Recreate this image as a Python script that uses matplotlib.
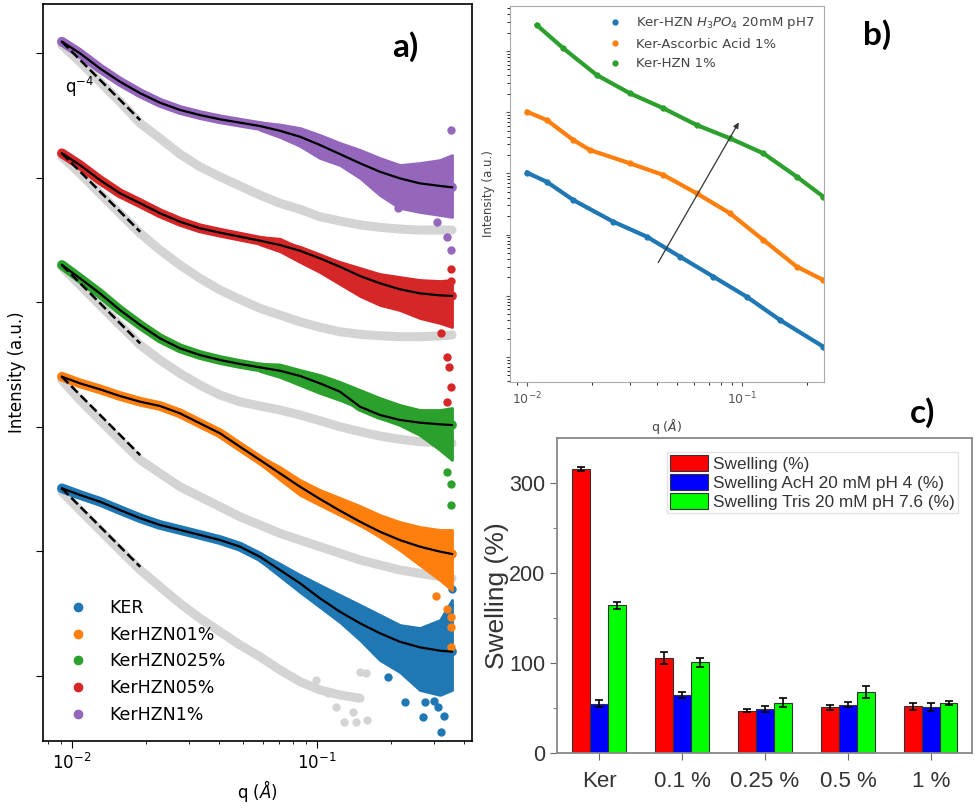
import matplotlib
matplotlib.use("Agg")
import matplotlib.pyplot as plt
import numpy as np
from matplotlib.lines import Line2D
from matplotlib.ticker import NullFormatter, LogLocator, FixedLocator

# ---------------- Panel a data (q in 1/Angstrom, log10 intensity with offsets) -------------
labels_a = ["KER", "KerHZN01%", "KerHZN025%", "KerHZN05%", "KerHZN1%"]
colors_a = ["#1f77b4", "#ff7f0e", "#2ca02c", "#d62728", "#9467bd"]

q_a = [0.0091, 0.01078, 0.0130, 0.0157, 0.0190, 0.02287, 0.0276, 0.0333, 0.0402, 0.0485, 0.0585,
       0.0706, 0.0853, 0.1028, 0.1241, 0.150, 0.1807, 0.218, 0.263, 0.318, 0.356]

y_ker = [1.506, 1.453, 1.399, 1.332, 1.266, 1.212, 1.172, 1.132, 1.091, 1.038, 0.957,
         0.851, 0.744, 0.624, 0.516, 0.423, 0.343, 0.275, 0.230, 0.203, 0.195]
y_01 = [2.402, 2.349, 2.301, 2.247, 2.201, 2.167, 2.108, 2.028, 1.948, 1.840, 1.734,
        1.627, 1.519, 1.421, 1.327, 1.238, 1.158, 1.091, 1.038, 0.998, 0.979]
y_025 = [3.299, 3.192, 3.071, 2.937, 2.817, 2.710, 2.630, 2.576, 2.536, 2.504, 2.477,
         2.450, 2.408, 2.349, 2.282, 2.161, 2.095, 2.055, 2.033, 2.020, 2.014]
y_05 = [4.195, 4.101, 3.981, 3.874, 3.794, 3.714, 3.646, 3.593, 3.558, 3.526, 3.494,
        3.459, 3.413, 3.352, 3.285, 3.210, 3.152, 3.104, 3.071, 3.055, 3.050]
y_1 = [5.091, 4.998, 4.877, 4.770, 4.677, 4.601, 4.543, 4.502, 4.468, 4.441, 4.414,
       4.376, 4.328, 4.262, 4.189, 4.115, 4.047, 3.994, 3.954, 3.933, 3.922]

# grey (background) curves on the same q grid (KER background stops at q~0.16)
g_ker = [1.479, 1.332, 1.172, 1.011, 0.851, 0.717, 0.583, 0.463, 0.356, 0.249, 0.155,
         0.049, -0.046, -0.112, -0.152, -0.179]
g_01 = [2.376, 2.215, 2.055, 1.894, 1.734, 1.627, 1.519, 1.439, 1.359, 1.278, 1.212,
        1.145, 1.091, 1.038, 0.985, 0.931, 0.891, 0.851, 0.824, 0.797, 0.784]
g_025 = [3.285, 3.138, 2.978, 2.817, 2.657, 2.536, 2.429, 2.335, 2.255, 2.201, 2.167,
         2.135, 2.095, 2.049, 2.001, 1.961, 1.926, 1.900, 1.880, 1.872, 1.868]
g_05 = [4.168, 4.035, 3.874, 3.713, 3.553, 3.419, 3.299, 3.192, 3.098, 3.023, 2.951,
        2.897, 2.843, 2.799, 2.763, 2.742, 2.731, 2.723, 2.723, 2.729, 2.737]
g_1 = [5.064, 4.930, 4.770, 4.609, 4.436, 4.315, 4.189, 4.087, 4.007, 3.933, 3.860,
       3.794, 3.746, 3.686, 3.652, 3.620, 3.601, 3.587, 3.579, 3.579, 3.579]

# spread of the noisy data at high q (upper / lower envelope)
q_band = [0.0585, 0.0706, 0.0853, 0.1028, 0.1241, 0.150, 0.1807, 0.218, 0.263, 0.318, 0.356]
hi_ker = [0.987, 0.901, 0.811, 0.730, 0.650, 0.570, 0.490, 0.409, 0.385, 0.449, 0.610]
lo_ker = [0.927, 0.801, 0.674, 0.554, 0.433, 0.289, 0.128, 0.032, -0.112, -0.152, -0.112]
hi_01 = [1.764, 1.677, 1.573, 1.493, 1.429, 1.364, 1.292, 1.236, 1.196, 1.172, 1.172]
lo_01 = [1.704, 1.577, 1.453, 1.372, 1.292, 1.212, 1.116, 1.011, 0.891, 0.770, 0.690]
hi_025 = [2.507, 2.500, 2.456, 2.416, 2.360, 2.295, 2.231, 2.175, 2.135, 2.135, 2.151]
lo_025 = [2.447, 2.400, 2.335, 2.271, 2.215, 2.151, 2.071, 2.014, 1.934, 1.814, 1.734]
hi_05 = [3.524, 3.509, 3.435, 3.379, 3.323, 3.274, 3.226, 3.202, 3.178, 3.170, 3.178]
lo_05 = [3.464, 3.409, 3.323, 3.242, 3.146, 3.050, 2.978, 2.937, 2.873, 2.833, 2.801]
hi_1 = [4.444, 4.426, 4.398, 4.342, 4.278, 4.222, 4.157, 4.101, 4.117, 4.141, 4.181]
lo_1 = [4.384, 4.326, 4.254, 4.157, 4.101, 3.997, 3.860, 3.756, 3.724, 3.700, 3.684]

# isolated outlying points
oq_ker = [0.229, 0.276, 0.272, 0.320, 0.330, 0.312, 0.356, 0.195, 0.300]
oy_ker = [-0.209, -0.209, -0.330, -0.450, -0.320, -0.250, 0.700, -0.010, -0.200]
oq_01 = [0.305, 0.338, 0.352, 0.352, 0.352]
oy_01 = [0.640, 0.540, 0.470, 0.393, 0.230]
oq_025 = [0.352, 0.352, 0.340]
oy_025 = [1.540, 1.370, 1.640]
oq_05 = [0.352, 0.352, 0.340, 0.345, 0.352, 0.338, 0.320]
oy_05 = [3.270, 3.170, 2.560, 2.480, 2.320, 2.200, 2.750]
oq_1 = [0.352, 0.215, 0.310, 0.340, 0.352]
oy_1 = [4.380, 3.760, 3.640, 3.520, 3.420]
ogq = [0.099, 0.111, 0.129, 0.144, 0.160, 0.150, 0.158, 0.120, 0.140]
ogy = [-0.030, -0.136, -0.370, -0.370, -0.354, 0.030, 0.020, -0.250, -0.290]

dash_q = [0.0091, 0.0190]
dash_drop = [0.0, 0.63]

# ---------------- Panel b data ----------------
labels_b = [r"Ker-HZN $H_3PO_4$ 20mM pH7", "Ker-Ascorbic Acid 1%", "Ker-HZN 1%"]
colors_b = ["#1f77b4", "#ff7f0e", "#2ca02c"]
qb_blue = [0.0100, 0.01235, 0.01642, 0.0252, 0.0361, 0.0515, 0.0736, 0.1051, 0.150, 0.2388]
yb_blue = [3.012, 2.864, 2.565, 2.211, 1.966, 1.639, 1.312, 0.985, 0.605, 0.168]
qb_orange = [0.0100, 0.01235, 0.01642, 0.01963, 0.0301, 0.0431, 0.0615, 0.0879, 0.1256, 0.1796, 0.2388]
yb_orange = [4.008, 3.873, 3.546, 3.382, 3.165, 2.974, 2.675, 2.348, 1.912, 1.476, 1.258]
qb_green = [0.0111, 0.01476, 0.0211, 0.0301, 0.0431, 0.0615, 0.0879, 0.1256, 0.1796, 0.2388]
yb_green = [5.425, 5.044, 4.608, 4.309, 4.064, 3.791, 3.573, 3.328, 2.946, 2.619]
arrow_q = [0.0401, 0.0979]
arrow_y = [1.503, 3.873]

# ---------------- Panel c data ----------------
categories = ["Ker", "0.1 %", "0.25 %", "0.5 %", "1 %"]
series_c = ["Swelling (%)", "Swelling AcH 20 mM pH 4 (%)", "Swelling Tris 20 mM pH 7.6 (%)"]
swelling = [316, 105.6, 47, 50.7, 51.9]
swelling_err = [2.2, 6.7, 2.0, 3.0, 3.7]
swelling_ach = [54.8, 64.4, 49, 53.7, 51.1]
swelling_ach_err = [3.5, 3.0, 3.0, 2.5, 4.0]
swelling_tris = [164, 100.7, 55.6, 67.8, 55.6]
swelling_tris_err = [4.0, 5.0, 5.0, 6.3, 2.0]
colors_c = ["#ff0000", "#0000ff", "#00ff00"]

# =====================================================================
fig = plt.figure(figsize=(9.75, 8.08), dpi=100)

# ---------------- Panel a ----------------
ax = fig.add_axes([0.0441, 0.0829, 0.4400, 0.9121])
grey = "#d4d4d4"
greys = [g_ker, g_01, g_025, g_05, g_1]
cols = [y_ker, y_01, y_025, y_05, y_1]
his = [hi_ker, hi_01, hi_025, hi_05, hi_1]
los = [lo_ker, lo_01, lo_025, lo_05, lo_1]
outs = [(oq_ker, oy_ker), (oq_01, oy_01), (oq_025, oy_025), (oq_05, oy_05), (oq_1, oy_1)]
for gy in greys:
    ax.plot(q_a[:len(gy)], gy, "-", color=grey, lw=6.5, solid_capstyle="round", zorder=1)
ax.plot(ogq, ogy, "o", color=grey, ms=5, zorder=1)
for y, hi, lo, (oq, oy), c in zip(cols, his, los, outs, colors_a):
    ax.plot(q_a, y, "-", color=c, lw=7, solid_capstyle="round", zorder=2)
    ax.fill_between(q_band, lo, hi, color=c, lw=2, edgecolor=c, zorder=2)
    ax.plot(oq, oy, "o", color=c, ms=5, zorder=2)
for y in cols:
    ax.plot(q_a, y, "-", color="black", lw=1.6, zorder=4)
    ax.plot(dash_q, [y[0] - dash_drop[0], y[0] - dash_drop[1]], "--", color="black", lw=1.8, zorder=3)

ax.set_xscale("log")
ax.set_xlim(0.00762, 0.4295)
ax.set_ylim(-0.522, 5.393)
ax.yaxis.set_major_locator(FixedLocator([0, 1, 2, 3, 4, 5]))
ax.yaxis.set_major_formatter(NullFormatter())
ax.tick_params(axis="x", labelsize=12, length=5)
ax.tick_params(axis="y", length=5)
ax.set_xlabel(r"q ($\AA$)", fontsize=12)
ax.set_ylabel("Intensity (a.u.)", fontsize=12, labelpad=4)
ax.text(0.0094, 4.68, r"q$^{-4}$", fontsize=12)
handles = [Line2D([], [], marker="o", ls="", color=c, ms=6) for c in colors_a]
ax.legend(handles, labels_a, loc="lower left", frameon=False, fontsize=12.5,
          handlelength=2.0, handletextpad=0.8, borderaxespad=0.6)
for s in ax.spines.values():
    s.set_linewidth(1.2)

# ---------------- Panel b ----------------
bx = fig.add_axes([0.5231, 0.5272, 0.3221, 0.4653])
bdata = [(qb_blue, yb_blue), (qb_orange, yb_orange), (qb_green, yb_green)]
for (q, y), c in zip(bdata, colors_b):
    bx.plot(q, 10 ** np.array(y), "-", color=c, lw=3, zorder=2)
    bx.plot(q, 10 ** np.array(y), "o", color=c, ms=3.5, zorder=2)
bx.annotate("", xy=(arrow_q[1], 10 ** arrow_y[1]), xytext=(arrow_q[0], 10 ** arrow_y[0]),
            arrowprops=dict(arrowstyle="-|>", color="#333333", lw=0.9, mutation_scale=8), zorder=5)
bx.set_xscale("log")
bx.set_yscale("log")
bx.set_xlim(0.00834, 0.2404)
bx.set_ylim(10 ** -0.408, 10 ** 5.735)
bx.yaxis.set_major_formatter(NullFormatter())
bx.yaxis.set_minor_formatter(NullFormatter())
bx.yaxis.set_major_locator(LogLocator(base=10, numticks=20))
bx.yaxis.set_minor_locator(LogLocator(base=10, subs=np.arange(2, 10), numticks=20))
bx.tick_params(labelsize=9, colors="#555555", length=3)
bx.tick_params(which="minor", length=2)
bx.set_xlabel(r"q ($\AA$)", fontsize=9, color="#444444", labelpad=7)
bx.set_ylabel("Intensity (a.u.)", fontsize=8.5, color="#444444")
for s in bx.spines.values():
    s.set_color("#aaaaaa")
hb = [Line2D([], [], marker="o", ls="", color=c, ms=3.5) for c in colors_b]
lb = bx.legend(hb, labels_b, loc="upper right", frameon=False, fontsize=9.5,
               handlelength=2.0, handletextpad=0.6, borderaxespad=0.3)
for t in lb.get_texts():
    t.set_color("#444444")

# ---------------- Panel c ----------------
cfont = "Liberation Sans"
cx = fig.add_axes([0.5713, 0.0681, 0.4256, 0.3899])
x = np.arange(len(categories))
w = 0.213
vals = [swelling, swelling_ach, swelling_tris]
errs = [swelling_err, swelling_ach_err, swelling_tris_err]
for i, (v, e, c, lab) in enumerate(zip(vals, errs, colors_c, series_c)):
    cx.bar(x + (i - 1) * w, v, width=w, color=c, edgecolor="#333333", lw=0.8, label=lab,
           yerr=e, capsize=3, error_kw=dict(ecolor="black", elinewidth=1.2, capthick=1.2))
cx.set_xlim(-0.506, 4.494)
cx.set_ylim(0, 350)
cx.set_xticks(x)
cx.set_xticklabels(categories, fontfamily=cfont, fontsize=16, color="#333333")
cx.set_yticks([0, 100, 200, 300])
cx.set_yticks([50, 150, 250], minor=True)
for t in cx.get_yticklabels():
    t.set_fontfamily(cfont)
    t.set_fontsize(15.5)
    t.set_color("#333333")
cx.tick_params(axis="x", which="major", length=5, color="#666666", pad=8)
cx.tick_params(axis="y", which="major", length=5, color="#666666")
cx.tick_params(axis="y", which="minor", length=3, color="#666666")
cx.set_ylabel("Swelling (%)", fontfamily=cfont, fontsize=19, color="#333333", labelpad=0)
for s in cx.spines.values():
    s.set_color("#888888")
    s.set_linewidth(1.3)
lc = cx.legend(loc="upper right", prop=dict(family=cfont, size=12.4), frameon=True, fancybox=False,
               edgecolor="#dddddd", handlelength=2.2, handleheight=1.05, labelspacing=0.12,
               handletextpad=0.3, borderpad=0.2, borderaxespad=0.8)
for t in lc.get_texts():
    t.set_color("#333333")

# panel labels
fig.text(0.416, 0.942, "a)", fontsize=24, fontweight="bold", fontfamily="Lato", ha="center", va="center")
fig.text(0.900, 0.957, "b)", fontsize=24, fontweight="bold", fontfamily="Lato", ha="center", va="center")
fig.text(0.946, 0.489, "c)", fontsize=24, fontweight="bold", fontfamily="Lato", ha="center", va="center")

fig.savefig("out.png", dpi=100)
